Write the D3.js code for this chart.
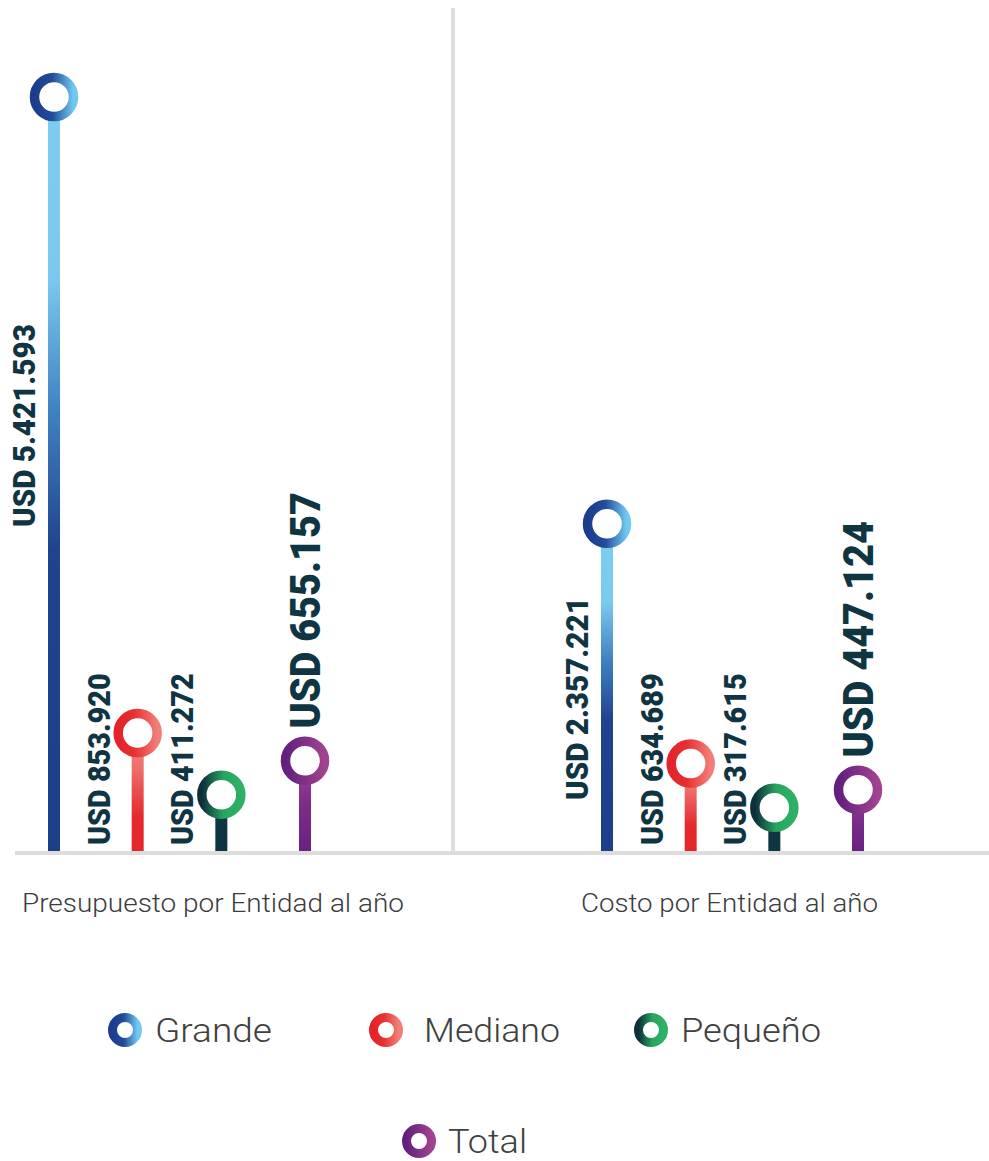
<!DOCTYPE html>
<html>
<head>
<meta charset="utf-8">
<script src="https://cdn.jsdelivr.net/npm/d3@7/dist/d3.min.js"></script>
<style>
  html, body { margin: 0; padding: 0; background: #ffffff; }
  svg { display: block; }
</style>
</head>
<body>
<svg id="chart" width="989" height="1161"></svg>
<script>
// Grupos de medición y tamaños de entidad
const groups = ["Presupuesto por Entidad al año", "Costo por Entidad al año"];
const categories = ["Grande", "Mediano", "Pequeño", "Total"];

// Valores en USD por grupo (mismo orden que categories)
const presupuestoValues = [5421593, 853920, 411272, 655157];
const costoValues = [2357221, 634689, 317615, 447124];

const seriesByGroup = [presupuestoValues, costoValues];

const W = 989, H = 1161;
const baseY = 852;
const svg = d3.select("#chart");
const defs = svg.append("defs");

// Formato de moneda con punto como separador de miles
const locale = d3.formatLocale({ decimal: ",", thousands: ".", grouping: [3], currency: ["USD ", ""] });
const fmt = locale.format("$,.0f");

// Escalas
const y = d3.scaleLinear().domain([0, 6000000]).range([baseY, baseY - 6000000 * 1.3926e-4]);
const groupX = d3.scalePoint().domain(groups).range([54, 607]);
const innerX = d3.scalePoint().domain(categories).range([0, 251]);

// Paletas: anillo (horizontal) y tallo (vertical)
const ringStops = {
  "Grande":  [[0, "#1b3d8c"], [0.45, "#224b9a"], [1, "#70c9f1"]],
  "Mediano": [[0, "#e3242a"], [0.4, "#e6302f"], [1, "#f27e78"]],
  "Pequeño": [[0, "#0e2e3b"], [0.55, "#27a45f"], [1, "#2eb167"]],
  "Total":   [[0, "#62207e"], [1, "#a1428f"]]
};
const stemStops = {
  "Grande":  [[0, "#7dcdf2"], [0.24, "#7ac9ef"], [0.42, "#3f80c0"], [0.6, "#1f438d"], [1, "#1c3f8a"]],
  "Mediano": [[0, "#f08884"], [0.3, "#ee6e6c"], [0.7, "#e42a2d"], [1, "#e3262a"]],
  "Pequeño": [[0, "#0f3442"], [1, "#0f3442"]],
  "Total":   [[0, "#a4449a"], [0.45, "#7e2d88"], [1, "#672283"]]
};

categories.forEach((c, i) => {
  const rg = defs.append("linearGradient").attr("id", "ring" + i)
    .attr("x1", 0).attr("y1", 0).attr("x2", 1).attr("y2", 0);
  ringStops[c].forEach(s => rg.append("stop").attr("offset", s[0]).attr("stop-color", s[1]));
  const sg = defs.append("linearGradient").attr("id", "stem" + i)
    .attr("x1", 0).attr("y1", 0).attr("x2", 0).attr("y2", 1);
  stemStops[c].forEach(s => sg.append("stop").attr("offset", s[0]).attr("stop-color", s[1]));
});

// Divisor vertical entre grupos
svg.append("line")
  .attr("x1", 453).attr("x2", 453).attr("y1", 8).attr("y2", baseY)
  .attr("stroke", "#dedede").attr("stroke-width", 4);

// Datos planos
const points = [];
groups.forEach((g, gi) => {
  categories.forEach((c, ci) => {
    points.push({ group: g, gi, cat: c, ci, value: seriesByGroup[gi][ci] });
  });
});
const px = d => groupX(d.group) + innerX(d.cat);

const ringR = 19.5, ringW = 9.5, stemW = 12;

// Tallos
svg.append("g").selectAll("rect").data(points).join("rect")
  .attr("x", d => px(d) - stemW / 2)
  .attr("y", d => y(d.value))
  .attr("width", stemW)
  .attr("height", d => baseY - y(d.value))
  .attr("fill", d => `url(#stem${d.ci})`);

// Línea base
svg.append("line")
  .attr("x1", 15).attr("x2", W).attr("y1", baseY + 1).attr("y2", baseY + 1)
  .attr("stroke", "#dcdcdc").attr("stroke-width", 4);

// Anillos
svg.append("g").selectAll("circle").data(points).join("circle")
  .attr("cx", px)
  .attr("cy", d => y(d.value))
  .attr("r", ringR)
  .attr("fill", "#ffffff")
  .attr("stroke", d => `url(#ring${d.ci})`)
  .attr("stroke-width", ringW);

// Etiquetas de valor (verticales)
const grandeLabelStart = { [groups[0]]: 527, [groups[1]]: 800 };
const labelFont = "Roboto, 'DejaVu Sans', sans-serif";

svg.append("g").selectAll("text").data(points).join("text")
  .each(function (d) {
    const t = d3.select(this);
    const txt = fmt(d.value);
    const big = d.cat === "Total";
    let bx, sy;
    if (d.cat === "Total") {
      bx = px(d) + 15;
      sy = y(d.value) - (ringR + ringW / 2) - 8;
    } else if (d.cat === "Grande") {
      bx = px(d) - 19;
      sy = grandeLabelStart[d.group];
    } else {
      bx = px(d) - 28;
      sy = baseY - 7;
    }
    t.text(txt)
      .attr("transform", `translate(${bx},${sy}) rotate(-90)`)
      .attr("font-family", labelFont)
      .attr("font-weight", 900)
      .attr("font-size", big ? 42 : 31)
      .attr("fill", "#0f3442")
      .attr("textLength", txt.length * (big ? 21.5 : 15.6))
      .attr("lengthAdjust", "spacingAndGlyphs");
  });

// Rótulos de grupo
const groupLabelX = { [groups[0]]: 213, [groups[1]]: 729.5 };
const groupLabelW = { [groups[0]]: 382, [groups[1]]: 297 };
svg.append("g").selectAll("text").data(groups).join("text")
  .attr("x", g => groupLabelX[g])
  .attr("y", 912)
  .attr("text-anchor", "middle")
  .attr("font-family", labelFont)
  .attr("font-weight", 300)
  .attr("font-size", 25)
  .attr("fill", "#3c3c3c")
  .attr("textLength", g => groupLabelW[g])
  .attr("lengthAdjust", "spacingAndGlyphs")
  .text(g => g);

// Leyenda
const legendLayout = [
  { cx: 125, cy: 1030, tx: 155, w: 117 },
  { cx: 386, cy: 1030, tx: 424, w: 136 },
  { cx: 651, cy: 1030, tx: 681, w: 140 },
  { cx: 419, cy: 1141, tx: 448, w: 79 }
];
const legend = svg.append("g");
categories.forEach((c, i) => {
  const L = legendLayout[i];
  legend.append("circle")
    .attr("cx", L.cx).attr("cy", L.cy).attr("r", 12.5)
    .attr("fill", "#ffffff")
    .attr("stroke", `url(#ring${i})`)
    .attr("stroke-width", 9);
  legend.append("text")
    .attr("x", L.tx).attr("y", L.cy + 12)
    .attr("font-family", labelFont)
    .attr("font-weight", 300)
    .attr("font-size", 33)
    .attr("fill", "#404040")
    .attr("textLength", L.w)
    .attr("lengthAdjust", "spacingAndGlyphs")
    .text(c);
});
</script>
</body>
</html>
